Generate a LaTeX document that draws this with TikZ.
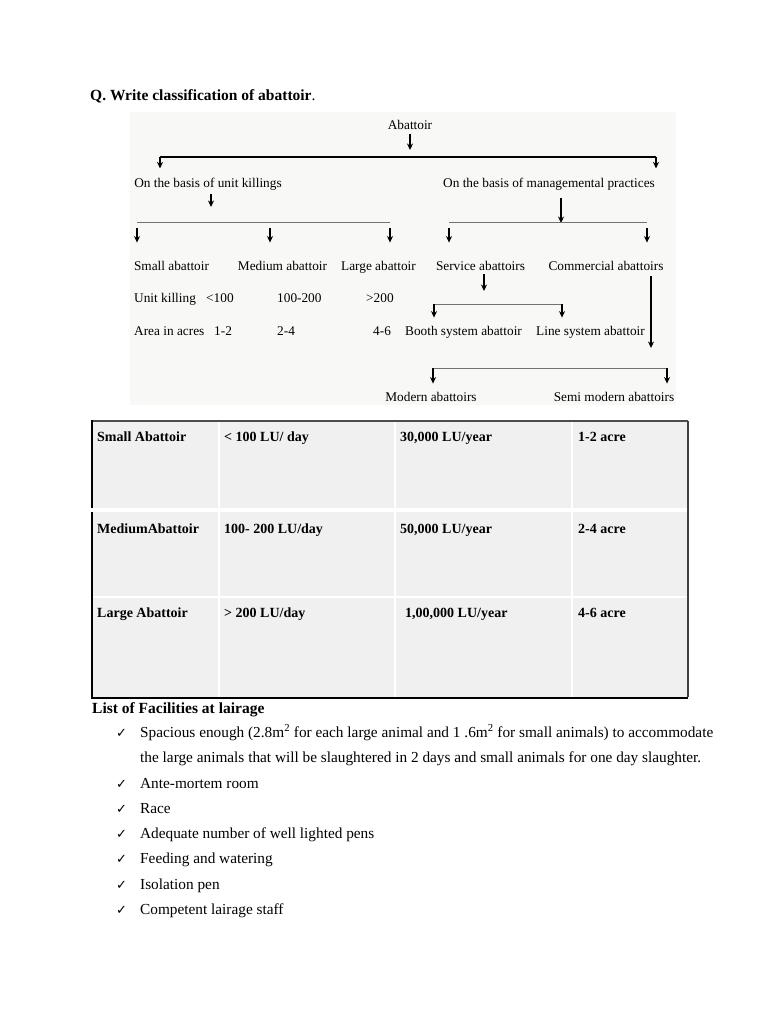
\documentclass[tikz,border=0pt]{standalone}
\usepackage{fontspec}
\setmainfont{Liberation Serif}
\newfontfamily\symfont{DejaVu Sans}
\usetikzlibrary{arrows.meta,positioning,calc}
\definecolor{cellgrey}{HTML}{F0F0F0}
\definecolor{diagbg}{HTML}{F8F8F7}
\tikzset{
  dtxt/.style={anchor=base, inner sep=0pt, font=\fontsize{13.3}{15}\selectfont},
  dtxtw/.style={dtxt, anchor=base west},
  ttxt/.style={anchor=base west, inner sep=0pt, font=\fontsize{14}{16}\selectfont\bfseries},
  ltxt/.style={anchor=base west, inner sep=0pt, font=\fontsize{15.3}{18}\selectfont},
  tickmark/.style={anchor=base west, inner sep=0pt, font=\fontsize{13}{15}\symfont},
  arr/.style={-{Stealth[length=6.5pt,width=6pt]}, line width=1.2pt},
  bar/.style={line width=1pt, black!55},
  cellline/.style={white, line width=2pt},
}

\begin{document}
\begin{tikzpicture}[x=1pt, y=-1pt]
\useasboundingbox[fill=white] (0,0) rectangle (768,1024);

% heading
\node[ltxt, font=\fontsize{15.5}{18}\selectfont] (ques) at (90,101) {\textbf{Q. Write classification of abattoir}.};

% classification tree
\fill[diagbg] (130,112) rectangle (676,405);
\node[dtxt] (abt) at (410,129.5) {Abattoir};
\node[dtxt] (unit) at (208,188) {On the basis of unit killings};
\node[dtxt] (mgmt) at (549,188) {On the basis of managemental practices};
\node[dtxt] (small) at (171.5,270) {Small abattoir};
\node[dtxt] (medium) at (282.5,270) {Medium abattoir};
\node[dtxt] (large) at (378.5,270) {Large abattoir};
\node[dtxt] (service) at (480.5,270) {Service abattoirs};
\node[dtxt] (commercial) at (606,270) {Commercial abattoirs};
\node[dtxtw] (uk) at (134,302) {Unit killing};
\node[dtxtw] (uk1) at (206,302) {<100};
\node[dtxtw] (uk2) at (277,302) {100-200};
\node[dtxtw] (uk3) at (366,302) {>200};
\node[dtxtw] (ar) at (134,335) {Area in acres};
\node[dtxtw] (ar1) at (214,335) {1-2};
\node[dtxtw] (ar2) at (277,335) {2-4};
\node[dtxtw] (ar3) at (373,335) {4-6};
\node[dtxt] (booth) at (463.5,335) {Booth system abattoir};
\node[dtxt] (line) at (590.5,335) {Line system abattoir};
\node[dtxt] (modern) at (431,401) {Modern abattoirs};
\node[dtxt] (semi) at (614,401) {Semi modern abattoirs};

\coordinate (b1l) at (160,157); \coordinate (b1r) at (656,157);
\coordinate (b2l) at (137,223); \coordinate (b2m) at (270,223); \coordinate (b2r) at (390,223);
\coordinate (u1) at (211,223);
\coordinate (b3l) at (449,223); \coordinate (b3r) at (647,223);
\coordinate (m1) at (561,223);
\coordinate (b4l) at (434,304); \coordinate (b4r) at (562,304);
\coordinate (s1) at (484,304);
\coordinate (b5l) at (433,368); \coordinate (b5r) at (667,368);
\coordinate (c1) at (651,368);

\draw[arr, shorten <=4pt, shorten >=7pt] (abt.south) -- (abt.south |- b1l);
\draw[line width=1.2pt] (b1l) -- (b1r);
\draw[arr, shorten >=10pt] (b1l) -- (b1l |- unit.north);
\draw[arr, shorten >=10pt] (b1r) -- (b1r |- mgmt.north);

\draw[arr, shorten <=3pt, shorten >=16pt] (unit.south -| u1) -- (u1);
\draw[bar] (b2l) -- (b2r);
\draw[arr, shorten <=5pt, shorten >=18pt] (b2l) -- (b2l |- small.north);
\draw[arr, shorten <=5pt, shorten >=18pt] (b2m) -- (b2m |- medium.north);
\draw[arr, shorten <=5pt, shorten >=18pt] (b2r) -- (b2r |- large.north);

\draw[arr, shorten <=7pt] (mgmt.south -| m1) -- (m1);
\draw[bar] (b3l) -- (b3r);
\draw[arr, shorten <=5pt, shorten >=18pt] (b3l) -- (b3l |- service.north);
\draw[arr, shorten <=5pt, shorten >=18pt] (b3r) -- (b3r |- commercial.north);

\draw[arr, shorten <=4pt, shorten >=13pt] (service.south -| s1) -- (s1);
\draw[bar] (b4l) -- (b4r);
\draw[arr, shorten >=8pt] (b4l) -- (b4l |- booth.north);
\draw[arr, shorten >=8pt] (b4r) -- (b4r |- line.north);

\draw[arr, shorten <=6pt, shorten >=20pt] (commercial.south -| c1) -- (c1);
\draw[bar] (b5l) -- (b5r);
\draw[arr, shorten >=8pt] (b5l) -- (b5l |- modern.north);
\draw[arr, shorten >=8pt] (b5r) -- (b5r |- semi.north);

% table
\fill[cellgrey] (92,421) rectangle (688,697);
\draw[cellline] (219,421) -- (219,697);
\draw[cellline] (395,421) -- (395,697);
\draw[cellline] (572,421) -- (572,697);
\draw[cellline] (92,597) -- (688,597);
\draw[black!70, line width=1.5pt] (92,421) -- (688,421);
\draw[black!75, line width=1.5pt] (688,421) -- (688,697);
\draw[black, line width=2.5pt] (92,420) -- (92,698) -- (688,698);
\draw[white, line width=4pt] (90,510) -- (687,510);

\node[ttxt] (t11) at (97,441) {Small Abattoir};
\node[ttxt] (t12) at (224,441) {< 100 LU/ day};
\node[ttxt] (t13) at (400,441) {30,000 LU/year};
\node[ttxt] (t14) at (578,441) {1-2 acre};
\node[ttxt] (t21) at (97,533) {MediumAbattoir};
\node[ttxt] (t22) at (224,533) {100- 200 LU/day};
\node[ttxt] (t23) at (400,533) {50,000 LU/year};
\node[ttxt] (t24) at (578,533) {2-4 acre};
\node[ttxt] (t31) at (97,617) {Large Abattoir};
\node[ttxt] (t32) at (224,617) {> 200 LU/day};
\node[ttxt] (t33) at (405,617) {1,00,000 LU/year};
\node[ttxt] (t34) at (578,617) {4-6 acre};

% facilities list
\node[ltxt, font=\fontsize{15.5}{18}\selectfont\bfseries] (facil) at (92,713) {List of Facilities at lairage};
\node[tickmark] (k1) at (116,737) {✓};
\node[ltxt] (f1a) at (140,737) {Spacious enough (2.8m\textsuperscript{2} for each large animal and 1 .6m\textsuperscript{2} for small animals) to accommodate};
\node[ltxt] (f1b) at (140,762) {the large animals that will be slaughtered in 2 days and small animals for one day slaughter.};
\node[tickmark] (k2) at (116,788) {✓};
\node[ltxt] (f2) at (140,788) {Ante-mortem room};
\node[tickmark] (k3) at (116,813) {✓};
\node[ltxt] (f3) at (140,813) {Race};
\node[tickmark] (k4) at (116,838) {✓};
\node[ltxt] (f4) at (140,838) {Adequate number of well lighted pens};
\node[tickmark] (k5) at (116,863) {✓};
\node[ltxt] (f5) at (140,863) {Feeding and watering};
\node[tickmark] (k6) at (116,889) {✓};
\node[ltxt] (f6) at (140,889) {Isolation pen};
\node[tickmark] (k7) at (116,914) {✓};
\node[ltxt] (f7) at (140,914) {Competent lairage staff};
\end{tikzpicture}
\end{document}
